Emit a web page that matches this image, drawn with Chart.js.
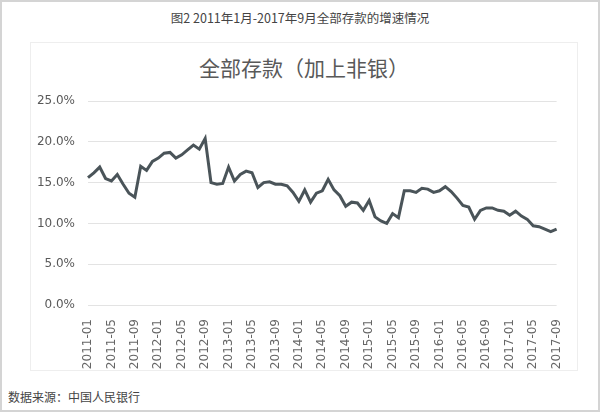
<!DOCTYPE html>
<html>
<head>
<meta charset="utf-8">
<script src="https://cdn.jsdelivr.net/npm/chart.js@4/dist/chart.umd.min.js"></script>
<style>
  html, body { margin:0; padding:0; background:#fff; }
  #frame { position:absolute; left:0; top:0; width:596px; height:408px; border:2px solid #d4d4d4; background:#fff; }
  #cap { position:absolute; left:0; width:600px; top:8px; text-align:center; font:12.5px "Noto Sans CJK SC", sans-serif; color:#444; }
  #box { position:absolute; left:30px; top:42px; width:546px; height:327px; border:1px solid #eeeeee; }
  #ttl { position:absolute; left:30px; width:548px; top:52px; text-align:center; font:21px "Noto Sans CJK SC", sans-serif; color:#595959; }
  #wrap { position:absolute; left:30px; top:42px; width:547px; height:328px; }
  #src { position:absolute; left:8px; top:388px; font:12px "Noto Sans CJK SC", sans-serif; color:#444; }
</style>
</head>
<body>
<div id="frame"></div>
<div id="cap">图2 2011年1月-2017年9月全部存款的增速情况</div>
<div id="box"></div>
<div id="ttl">全部存款（加上非银）</div>
<div id="wrap"><canvas id="mycanvas" width="547" height="328"></canvas></div>
<div id="src">数据来源：中国人民银行</div>
<script>
var startYear = 2011;
var monthCount = 81;
// deposit growth, %, monthly 2011-01 .. 2017-09
var growth = [
  15.6, 16.2, 16.9, 15.5, 15.2, 16.0, 14.8, 13.7, 13.2, 17.0, 16.5, 17.6,
  18.0, 18.6, 18.7, 18.0, 18.4, 19.0, 19.6, 19.1, 20.4, 15.0, 14.8, 14.9,
  16.9, 15.2, 16.0, 16.4, 16.2, 14.4, 15.0, 15.1, 14.8, 14.8, 14.6, 13.8,
  12.7, 14.1, 12.6, 13.7, 14.0, 15.4, 14.1, 13.4, 12.1, 12.6, 12.5, 11.6,
  12.8, 10.8, 10.3, 10.0, 11.2, 10.7, 14.0, 14.0, 13.8, 14.3, 14.2, 13.8,
  14.0, 14.5, 13.9, 13.1, 12.2, 12.0, 10.5, 11.6, 11.9, 11.9, 11.6, 11.5,
  11.0, 11.5, 10.9, 10.5, 9.7, 9.6, 9.3, 9.0, 9.3
];
var yTicks = [0, 5, 10, 15, 20, 25];

var months = [];
for (var i = 0; i < monthCount; i++) {
  var y = startYear + Math.floor(i / 12);
  var m = (i % 12) + 1;
  months.push(y + '-' + (m < 10 ? '0' + m : m));
}

var ctx = document.getElementById('mycanvas');
var chart = new Chart(ctx, {
  type: 'line',
  data: {
    labels: months,
    datasets: [{
      label: '全部存款',
      data: growth,
      borderColor: '#4a5459',
      borderWidth: 3,
      pointRadius: 0,
      fill: false,
      tension: 0
    }]
  },
  options: {
    animation: false,
    responsive: false,
    layout: { padding: { top: 59, right: 17, left: 0, bottom: 0 } },
    plugins: { legend: { display: false }, tooltip: { enabled: false } },
    scales: {
      x: {
        grid: { display: false },
        border: { display: false },
        afterFit: function(s) { s.height = 65; },
        ticks: {
          autoSkip: false,
          maxRotation: 90, minRotation: 90,
          padding: 6,
          color: '#666',
          font: { size: 12, family: 'DejaVu Sans' },
          callback: function(v, i) { return i % 4 === 0 ? months[i] : ''; }
        }
      },
      y: {
        min: 0, max: 25,
        afterFit: function(s) { s.width = 58; },
        afterBuildTicks: function(s) { s.ticks = yTicks.map(function(v){ return { value: v }; }); },
        grid: { color: '#e3e3e3', drawTicks: false },
        border: { display: false },
        ticks: {
          padding: 13,
          color: '#595959',
          font: { size: 12, family: 'DejaVu Sans' },
          callback: function(v) { return v.toFixed(1) + '%'; }
        }
      }
    }
  }
});
</script>
</body>
</html>
